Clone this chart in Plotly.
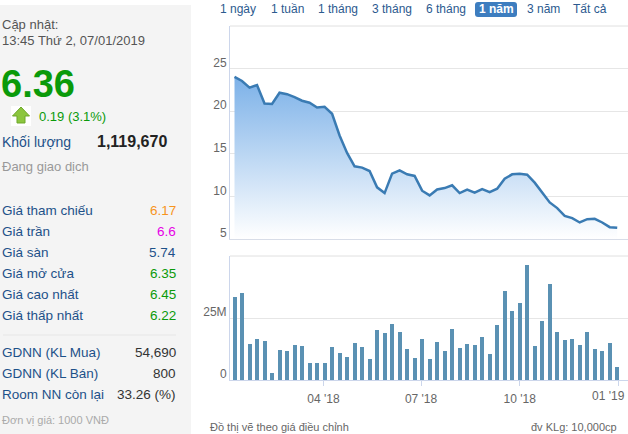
import plotly.graph_objects as go
import pandas as pd

# ---------------- data ----------------
week_start = "2018-01-08"
n_weeks = 52
dates = pd.date_range(week_start, periods=n_weeks, freq="7D")

price = [24.02, 23.55, 22.76, 23.07, 20.90, 20.84, 22.17, 22.00, 21.66, 21.23,
         21.00, 20.44, 20.52, 19.70, 17.15, 15.10, 13.53, 13.38, 12.98, 11.06,
         10.39, 12.67, 13.06, 12.59, 12.40, 10.67, 10.12, 10.82, 10.98, 11.30,
         10.39, 10.79, 10.43, 10.86, 10.51, 10.90, 12.08, 12.59, 12.67, 12.55,
         11.61, 10.39, 9.29, 8.63, 7.72, 7.45, 6.94, 7.33, 7.37, 6.94,
         6.39, 6.31]

volume_m = [33.5, 35.1, 14.5, 16.5, 15.9, 2.8, 12.2, 11.8, 14.1, 13.7,
            6.9, 6.9, 6.9, 13.3, 10.9, 9.3, 14.9, 13.3, 8.5, 20.2,
            19.0, 22.6, 19.4, 12.5, 8.9, 16.5, 8.5, 15.3, 11.7, 20.6,
            12.9, 14.5, 14.1, 17.3, 10.5, 22.2, 35.9, 27.8, 31.0, 46.4,
            13.7, 23.8, 38.7, 19.4, 16.1, 16.5, 14.1, 19.4, 12.5, 11.7,
            14.9, 5.2]
volume = [v * 1e6 for v in volume_m]

price_ticks = [5, 10, 15, 20, 25]
vol_ticks = [0, 25e6]
vol_tick_text = ["0", "25M"]
date_ticks = ["2018-04-01", "2018-07-01", "2018-10-01", "2019-01-01"]
date_tick_text = ["04 '18", "07 '18", "10 '18", "01 '19"]
x_range = ["2018-01-03 19:00", "2019-01-10 01:00"]

range_buttons = ["1 ngày", "1 tuần", "1 tháng", "3 tháng", "6 tháng", "1 năm", "3 năm", "Tất cả"]
selected_button = "1 năm"

update_label = "Cập nhật:"
update_time = "13:45 Thứ 2, 07/01/2019"
last_price = "6.36"
change_text = "0.19 (3.1%)"
volume_label = "Khối lượng"
volume_value = "1,119,670"
status_text = "Đang giao dịch"
table_labels = ["Giá tham chiếu", "Giá trần", "Giá sàn", "Giá mở cửa", "Giá cao nhất", "Giá thấp nhất"]
table_values = ["6.17", "6.6", "5.74", "6.35", "6.45", "6.22"]
table_colors = ["#f7941d", "#e600e6", "#1d5189", "#0a9a0a", "#0a9a0a", "#0a9a0a"]
foreign_labels = ["GDNN (KL Mua)", "GDNN (KL Bán)", "Room NN còn lại"]
foreign_values = ["54,690", "800", "33.26 (%)"]
unit_text = "Đơn vị giá: 1000 VNĐ"
note_left = "Đồ thị vẽ theo giá điều chỉnh"
note_right = "đv KLg: 10,000cp"

# ---------------- layout helpers ----------------
W, H = 628, 434
FONT = "Arial, Liberation Sans, sans-serif"
LABEL_BLUE = "#1d5189"
GREEN = "#0a9a0a"


def px(x):
    return x / W


def py(y):
    return 1 - y / H


annotations = []


def text(x, y, s, size=13, color="#333", anchor="left", bold=False):
    annotations.append(dict(
        x=px(x), y=py(y), xref="paper", yref="paper", text=("<b>%s</b>" % s) if bold else s,
        showarrow=False, xanchor=anchor, yanchor="middle", borderpad=0,
        font=dict(family=FONT, size=size, color=color)))


shapes = []
# left info panel
shapes.append(dict(type="rect", xref="paper", yref="paper", x0=px(0), x1=px(191), y0=py(434), y1=py(5),
                   fillcolor="#f4f4f4", line=dict(width=0), layer="below"))
# arrow backdrop + arrow
shapes.append(dict(type="rect", xref="paper", yref="paper", x0=px(11), x1=px(31), y0=py(126), y1=py(106),
                   fillcolor="#ffffff", line=dict(width=0)))
arrow_pts = [(21, 107), (29.5, 116), (25, 116), (25, 123), (17, 123), (17, 116), (12.5, 116)]
path = "M " + " L ".join("%f,%f" % (px(a), py(b)) for a, b in arrow_pts) + " Z"
shapes.append(dict(type="path", xref="paper", yref="paper", path=path,
                   fillcolor="#8cc63f", line=dict(color="#6ea82a", width=1)))
# separator
shapes.append(dict(type="line", xref="paper", yref="paper", x0=px(3), x1=px(176), y0=py(335), y1=py(335),
                   line=dict(color="#e6e6e6", width=1)))
# selected range button (rounded rect)
bx0, bx1, by0, by1, r = 475, 517, 2, 17, 3
pts = ("M %f,%f L %f,%f Q %f,%f %f,%f L %f,%f Q %f,%f %f,%f L %f,%f Q %f,%f %f,%f L %f,%f Q %f,%f %f,%f Z" % (
    px(bx0 + r), py(by0), px(bx1 - r), py(by0), px(bx1), py(by0), px(bx1), py(by0 + r),
    px(bx1), py(by1 - r), px(bx1), py(by1), px(bx1 - r), py(by1),
    px(bx0 + r), py(by1), px(bx0), py(by1), px(bx0), py(by1 - r),
    px(bx0), py(by0 + r), px(bx0), py(by0), px(bx0 + r), py(by0)))
shapes.append(dict(type="path", xref="paper", yref="paper", path=pts, fillcolor="#3d7dbf", line=dict(width=0)))
# chart top borders
for yy in (26, 256):
    shapes.append(dict(type="line", xref="paper", yref="paper", x0=px(230), x1=px(628), y0=py(yy), y1=py(yy),
                       line=dict(color="#e0e0e0", width=1)))

# ---------------- left panel text ----------------
text(1, 24.5, update_label, 13, "#555")
text(1, 40.5, update_time, 13, "#555")
text(0, 84, last_price, 38, GREEN, bold=True)
text(38, 116.5, change_text, 13, GREEN)
text(1, 141.5, volume_label, 14, LABEL_BLUE)
text(168, 141, volume_value, 16, "#222", anchor="right", bold=True)
text(1, 167, status_text, 13, "#999")
for i, (lab, val, col) in enumerate(zip(table_labels, table_values, table_colors)):
    yy = 210.8 + i * 20.9
    text(1, yy, lab, 13.5, LABEL_BLUE)
    text(177, yy, val, 13.5, col, anchor="right")
for i, (lab, val) in enumerate(zip(foreign_labels, foreign_values)):
    yy = 352.5 + i * 20.8
    text(1, yy, lab, 13.5, LABEL_BLUE)
    text(177, yy, val, 13.5, "#333", anchor="right")
text(1, 420, unit_text, 11, "#aaa")

# range buttons
btn_x = [238, 287, 338, 391.7, 446, 496, 543, 590]
for bx, lab in zip(btn_x, range_buttons):
    if lab == selected_button:
        text(bx, 9, lab, 12, "#ffffff", anchor="center", bold=True)
    else:
        text(bx, 9, lab, 12, "#2c5a8f", anchor="center")

# bottom notes
text(209, 426.7, note_left, 11, "#666")
text(618, 426.7, note_right, 11, "#666", anchor="right")

# last date tick label: kept inside the chart like the original (shifted left of its tick)
annotations.append(dict(x=date_ticks[-1], xref="x2", y=py(396), yref="paper", text=date_tick_text[-1],
                        showarrow=False, xanchor="center", yanchor="middle", xshift=-10,
                        font=dict(family=FONT, size=12, color="#666")))
axis_tick_text = date_tick_text[:-1] + [""]

# ---------------- traces ----------------
fig = go.Figure()
fig.add_trace(go.Scatter(
    x=dates, y=price, mode="lines", xaxis="x", yaxis="y",
    line=dict(color="#3a7bb3", width=2.5),
    fill="tozeroy",
    fillgradient=dict(type="vertical", start=5, stop=24,
                      colorscale=[[0, "rgba(255,255,255,1)"], [1, "rgba(124,177,232,1)"]]),
    hoverinfo="skip"))
fig.add_trace(go.Bar(
    x=dates, y=volume, xaxis="x2", yaxis="y2",
    marker=dict(color="#5a91b3", line=dict(width=0)),
    width=3.73 * 86400000, hoverinfo="skip"))

axis_font = dict(family=FONT, size=12, color="#666")
fig.update_layout(
    width=W, height=H, margin=dict(l=0, r=0, t=0, b=0, autoexpand=False), autosize=False,
    paper_bgcolor="#ffffff", plot_bgcolor="#ffffff", showlegend=False,
    shapes=shapes, annotations=annotations,
    xaxis=dict(domain=[px(230), 1], range=x_range, type="date", anchor="y",
               showticklabels=False, showgrid=False, zeroline=False,
               showline=True, linecolor="#d8dde8", linewidth=1),
    yaxis=dict(domain=[py(239), py(26)], range=[5, 30], anchor="x",
               tickvals=price_ticks, tickfont=axis_font, ticklabelshift=-6,
               showgrid=True, gridcolor="#e6e6e6", gridwidth=1, zeroline=False,
               showline=True, linecolor="#ccd6eb", linewidth=1, ticks=""),
    xaxis2=dict(domain=[px(230), 1], range=x_range, type="date", anchor="y2",
                tickvals=date_ticks, ticktext=axis_tick_text, tickfont=axis_font,
                ticks="outside", ticklen=5, tickcolor="#ccd6eb", ticklabelstandoff=3,
                showgrid=False, zeroline=False,
                showline=True, linecolor="#ccd6eb", linewidth=1),
    yaxis2=dict(domain=[py(380), py(256)], range=[0, 50e6], anchor="x2",
                tickvals=vol_ticks, ticktext=vol_tick_text, tickfont=axis_font, ticklabelshift=-6,
                showgrid=True, gridcolor="#e6e6e6", zeroline=False,
                showline=True, linecolor="#ccd6eb", linewidth=1, ticks=""),
    bargap=0,
)

fig.write_html("out.html", config={"responsive": False, "displayModeBar": False},
               post_script="document.body.style.margin='0';document.documentElement.style.overflow='hidden';")
